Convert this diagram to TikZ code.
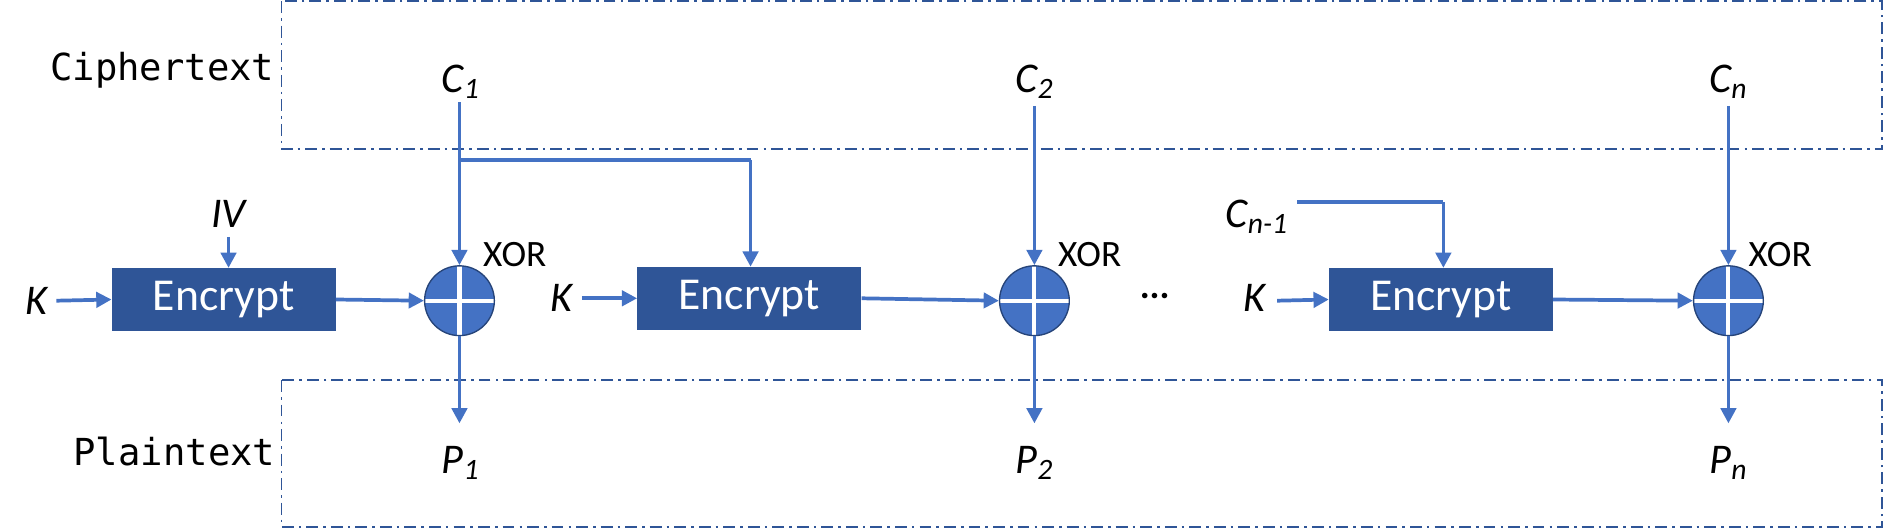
\documentclass[tikz,border=0pt]{standalone}
\usepackage{fontspec}
\setmainfont{Carlito}
\newfontfamily\monof{DejaVu Sans Mono}
\usetikzlibrary{arrows.meta}
\definecolor{ln}{HTML}{4472C4}
\definecolor{bx}{HTML}{2F5597}
\begin{document}
\begin{tikzpicture}[x=0.025cm,y=-0.025cm,
  conn/.style={draw=ln,line width=2.2pt,-{Triangle[length=9pt,width=9pt]}},
  seg/.style={draw=ln,line width=2.2pt},
  enc/.style={fill=bx,minimum width=186*0.025cm,minimum height=52*0.025cm,inner sep=0,text=white,font=\fontsize{27}{30}\selectfont},
  xor/.style={circle,fill=ln,draw=bx!80!black,line width=0.8pt,minimum size=58*0.025cm,inner sep=0,
    path picture={\draw[white,line width=2.4pt] (path picture bounding box.north)--(path picture bounding box.south) (path picture bounding box.west)--(path picture bounding box.east);}},
  lab/.style={font=\fontsize{25}{28}\selectfont\itshape,inner sep=1pt},
  xl/.style={font=\fontsize{22}{24}\selectfont},
  region/.style={draw=bx,line width=1.1pt,dash pattern=on 7pt off 3pt on 1.5pt off 3pt},
  side/.style={font=\monof\fontsize{22}{24}\selectfont}]
\useasboundingbox (0,0) rectangle (1568,441);
\draw[region] (234,1) rectangle (1565,124);
\draw[region] (234,316) rectangle (1565,438);
\node[side] (ct) at (135,58) {Ciphertext};
\node[side] (pt) at (145,375) {Plaintext};

\node[enc] (e1) at (186,249) {Encrypt};
\node[enc] (e2) at (623,248) {Encrypt};
\node[enc] (e3) at (1198,249) {Encrypt};
\node[xor] (x1) at (382,250) {};
\node[xor] (x2) at (860,250) {};
\node[xor] (x3) at (1437,250) {};
\node[xl] (xl1) at (428,212) {XOR};
\node[xl] (xl2) at (906,212) {XOR};
\node[xl] (xl3) at (1480,212) {XOR};

\node[lab] (c1) at (383,68) {C\textsubscript{1}};
\node[lab] (c2) at (860,68) {C\textsubscript{2}};
\node[lab] (cn) at (1437,68) {C\textsubscript{n}};
\node[lab] (cn1) at (1045,180) {C\textsubscript{n-1}};
\node[lab] (iv) at (190,178) {IV};
\node[lab] (k1) at (30,250) {K};
\node[lab] (k2) at (467,248) {K};
\node[lab] (k3) at (1043,248) {K};
\node[lab] (p1) at (383,385) {P\textsubscript{1}};
\node[lab] (p2) at (860,385) {P\textsubscript{2}};
\node[lab] (pn) at (1437,385) {P\textsubscript{n}};
\node[font=\fontsize{22}{24}\selectfont\bfseries] (dots) at (960,246) {...};

\coordinate (br) at (382,133);
\coordinate (br2) at (624,133);
\coordinate (cnc) at (1200,168);
\draw[conn] (382,85) -- (x1.north);
\draw[seg] (br) -- (br2);
\draw[conn] (br2) -- (e2.north -| br2);
\draw[conn] (860,88) -- (x2.north);
\draw[conn] (1437,88) -- (x3.north);
\draw[seg] (cn1.east |- cnc) ++(6,0) -- (cnc);
\draw[conn] (cnc) -- (e3.north -| cnc);
\draw[conn] (190,197) -- (e1.north -| 190,0);
\draw[conn] (k1.east) ++(6,0) -- (e1.west);
\draw[conn] (k2.east) ++(6,0) -- (e2.west);
\draw[conn] (k3.east) ++(8,2) -- (e3.west);
\draw[conn] (e1.east) -- (x1.west);
\draw[conn] (e2.east) -- (x2.west);
\draw[conn] (e3.east) -- (x3.west);
\draw[conn] (x1.south) -- (382,352);
\draw[conn] (x2.south) -- (860,352);
\draw[conn] (x3.south) -- (1437,352);
\end{tikzpicture}
\end{document}
